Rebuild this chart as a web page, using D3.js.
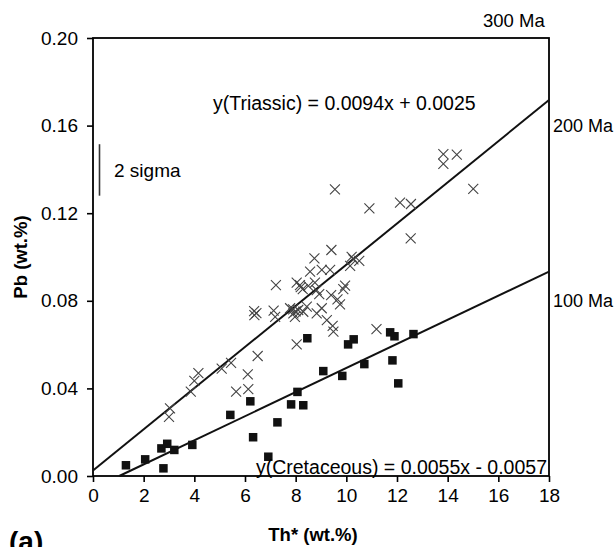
<!DOCTYPE html>
<html>
<head>
<meta charset="utf-8">
<script src="https://cdn.jsdelivr.net/npm/d3@7"></script>
<style>
	body { margin: 0; background: #fff; }
	svg { display: block; font-family: "Liberation Sans", Arial, sans-serif; }
	.axis path, .axis line { stroke: #000; stroke-width: 1.6; }
	.axis text { font-size: 19px; fill: #000; }
</style>
</head>
<body>
<svg id="chart"></svg>
<script>
// Th* vs Pb, Triassic (crosses) and Cretaceous (squares) monazites
const triassicTh = [3.00, 3.04, 3.86, 4.00, 4.16, 5.08, 5.45, 5.65, 6.13, 6.11, 6.50, 8.04, 6.36, 6.37, 6.45,
	7.13, 7.19, 7.22, 7.78, 7.91, 7.97, 8.10, 8.30, 8.04, 8.17, 8.28, 8.50, 8.76, 8.83, 8.57, 8.74, 9.03,
	9.41, 9.36, 8.93, 9.03, 8.83, 9.40, 9.65, 9.75, 9.23, 9.46, 9.49, 8.44, 13.83, 14.36, 13.83, 15.01,
	9.55, 10.91, 12.12, 12.55, 12.54, 10.21, 10.28, 10.51, 10.15, 9.95, 9.88, 11.19, 8.20, 8.00, 7.90];
const triassicPb = [0.0270, 0.0309, 0.0385, 0.0434, 0.0470, 0.0490, 0.0517, 0.0385, 0.0397, 0.0464, 0.0548, 0.0601, 0.0753, 0.0735, 0.0744,
	0.0755, 0.0727, 0.0872, 0.0766, 0.0743, 0.0727, 0.0758, 0.0750, 0.0883, 0.0872, 0.0853, 0.0868, 0.0883, 0.0849, 0.0933, 0.0994, 0.0941,
	0.1032, 0.0941, 0.0830, 0.0766, 0.0743, 0.0826, 0.0807, 0.0784, 0.0712, 0.0685, 0.0659, 0.0773, 0.1470, 0.1467, 0.1425, 0.1311,
	0.1309, 0.1222, 0.1248, 0.1242, 0.1085, 0.1001, 0.0989, 0.0982, 0.0959, 0.0869, 0.0853, 0.0671, 0.0862, 0.0752, 0.0761];

const cretaceousTh = [1.30, 2.06, 2.78, 2.70, 2.93, 3.21, 3.92, 5.42, 6.21, 6.32, 6.92, 7.28, 7.82,
	8.30, 8.07, 9.09, 9.84, 8.46, 10.07, 10.29, 10.71, 11.73, 11.90, 11.82, 12.05, 12.65];
const cretaceousPb = [0.0049, 0.0076, 0.0035, 0.0126, 0.0147, 0.0119, 0.0142, 0.0279, 0.0341, 0.0177, 0.0088, 0.0245, 0.0327,
	0.0323, 0.0384, 0.0479, 0.0457, 0.0629, 0.0601, 0.0624, 0.0511, 0.0656, 0.0638, 0.0528, 0.0423, 0.0648];

// regression lines: [slope, intercept]
const triassicFit = [0.0094, 0.0025];
const cretaceousFit = [0.0055, -0.0057];

const xTicks = [0, 2, 4, 6, 8, 10, 12, 14, 16, 18];
const yTicks = [0, 0.04, 0.08, 0.12, 0.16, 0.20];

// 2 sigma error bar (Pb range) and age labels
const sigmaBar = [0.1280, 0.1515];
const ageLabels = ['300 Ma', '200 Ma', '100 Ma'];


const width = 616,
	height = 547,
	margin = {top: 38, left: 93, right: 67, bottom: 71};

const svg = d3.select('#chart')
	.attr('width', width)
	.attr('height', height);

const innerW = width - margin.left - margin.right,
	innerH = height - margin.top - margin.bottom;

const x = d3.scaleLinear().domain([0, 18]).range([0, innerW]);
const y = d3.scaleLinear().domain([0, 0.20]).range([innerH, 0]);

const g = svg.append('g')
	.attr('transform', 'translate(' + margin.left + ',' + margin.top + ')');

// axes
g.append('g')
	.attr('class', 'axis axis--x')
	.attr('transform', 'translate(0,' + innerH + ')')
	.call(d3.axisBottom(x).tickValues(xTicks).tickSize(6).tickSizeOuter(0).tickPadding(7).tickFormat(d3.format('d')));

g.append('g')
	.attr('class', 'axis axis--y')
	.call(d3.axisLeft(y).tickValues(yTicks).tickSize(6).tickSizeOuter(0).tickPadding(9).tickFormat(d3.format('.2f')));

g.selectAll('.axis .domain').remove();

// frame
g.append('rect')
	.attr('width', innerW)
	.attr('height', innerH)
	.attr('fill', 'none')
	.attr('stroke', '#000')
	.attr('stroke-width', 1.8);

// fit lines
const lineGen = d3.line().x((d) => x(d[0])).y((d) => y(d[1]));
const triLine = [[0, triassicFit[1]], [18, triassicFit[0] * 18 + triassicFit[1]]];
const creLine = [[-cretaceousFit[1] / cretaceousFit[0], 0], [18, cretaceousFit[0] * 18 + cretaceousFit[1]]];

g.selectAll('.fit')
	.data([triLine, creLine])
	.enter()
	.append('path')
	.attr('class', 'fit')
	.attr('d', lineGen)
	.attr('fill', 'none')
	.attr('stroke', '#111')
	.attr('stroke-width', 2);

// crosses
const cs = 5;
g.append('g').selectAll('.cross')
	.data(d3.range(triassicTh.length))
	.enter()
	.append('path')
	.attr('class', 'cross')
	.attr('transform', (i) => 'translate(' + x(triassicTh[i]) + ',' + y(triassicPb[i]) + ')')
	.attr('d', 'M' + -cs + ',' + -cs + 'L' + cs + ',' + cs + 'M' + -cs + ',' + cs + 'L' + cs + ',' + -cs)
	.attr('stroke', '#444')
	.attr('stroke-width', 1.1)
	.attr('fill', 'none');

// squares
const sq = 8.5;
g.append('g').selectAll('.sq')
	.data(d3.range(cretaceousTh.length))
	.enter()
	.append('rect')
	.attr('class', 'sq')
	.attr('x', (i) => x(cretaceousTh[i]) - sq / 2)
	.attr('y', (i) => y(cretaceousPb[i]) - sq / 2)
	.attr('width', sq)
	.attr('height', sq)
	.attr('fill', '#111');

// 2 sigma bar
g.append('line')
	.attr('x1', 6.5).attr('x2', 6.5)
	.attr('y1', y(sigmaBar[0])).attr('y2', y(sigmaBar[1]))
	.attr('stroke', '#333')
	.attr('stroke-width', 1.6);

g.append('text')
	.attr('x', 21)
	.attr('y', y((sigmaBar[0] + sigmaBar[1]) / 2) + 7)
	.style('font-size', '19px')
	.text('2 sigma');

// equations
g.append('text')
	.attr('x', 120)
	.attr('y', 72)
	.style('font-size', '19.5px')
	.text('y(Triassic) = ' + triassicFit[0] + 'x + ' + triassicFit[1].toFixed(4));

g.append('text')
	.attr('x', innerW - 2)
	.attr('y', innerH - 2.5)
	.attr('text-anchor', 'end')
	.style('font-size', '19.5px')
	.text('y(Cretaceous) = ' + cretaceousFit[0] + 'x - ' + Math.abs(cretaceousFit[1]).toFixed(4));

// age labels
svg.append('text').attr('x', 483).attr('y', 27).style('font-size', '18.5px').text(ageLabels[0]);
svg.append('text').attr('x', 553).attr('y', 132).style('font-size', '18px').text(ageLabels[1]);
svg.append('text').attr('x', 553).attr('y', 307).style('font-size', '18px').text(ageLabels[2]);

// axis titles
svg.append('text')
	.attr('x', margin.left + innerW / 2 - 8)
	.attr('y', 541)
	.attr('text-anchor', 'middle')
	.style('font-size', '18.5px')
	.style('font-weight', 'bold')
	.text('Th* (wt.%)');

svg.append('text')
	.attr('transform', 'translate(27,' + (margin.top + innerH / 2) + ') rotate(-90)')
	.attr('text-anchor', 'middle')
	.style('font-size', '18.5px')
	.style('font-weight', 'bold')
	.text('Pb (wt.%)');

svg.append('text')
	.attr('x', 9)
	.attr('y', 551)
	.style('font-size', '28px')
	.style('font-weight', 'bold')
	.text('(a)');
</script>
</body>
</html>
